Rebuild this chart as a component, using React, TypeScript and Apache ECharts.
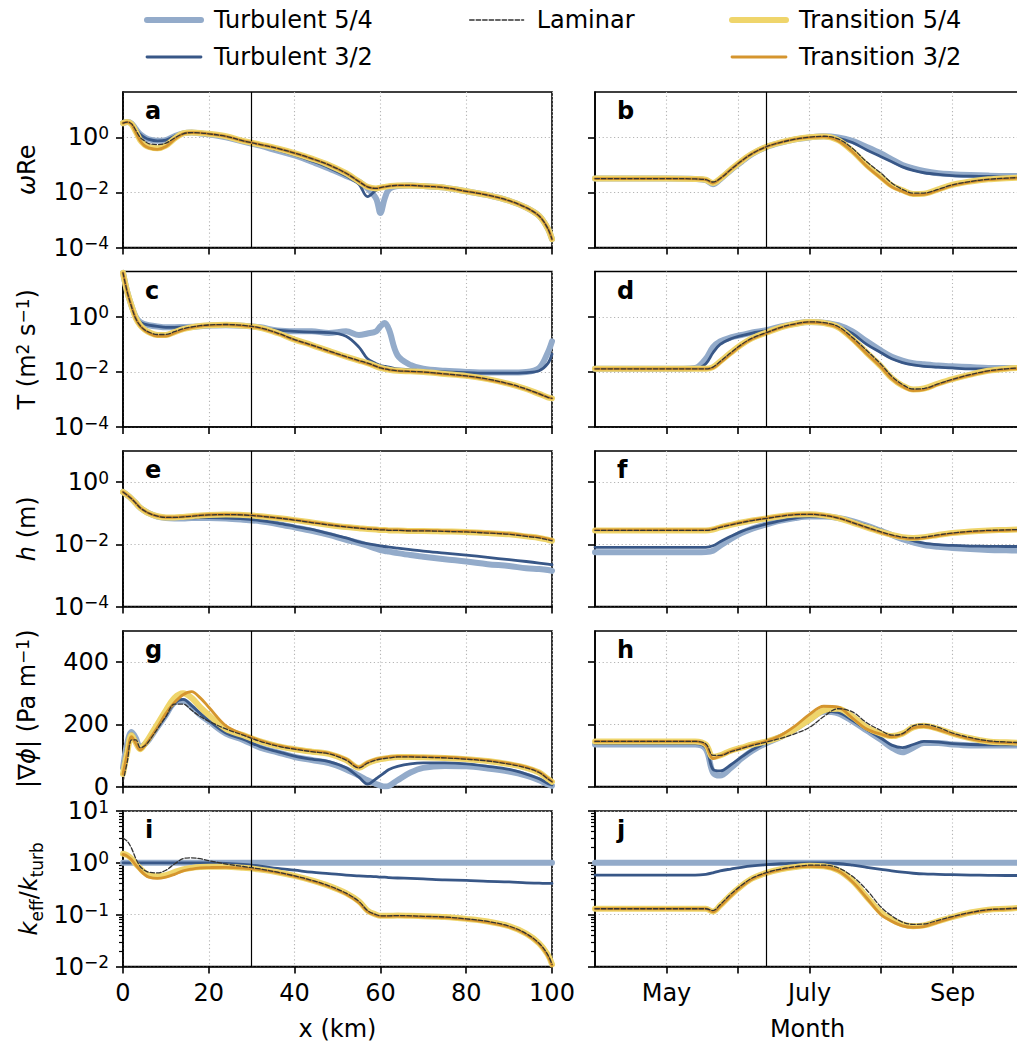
import React, { useEffect, useRef } from "react";
import * as echarts from "echarts";

// ---------- x positions ----------
const xKm = [0, 1, 2, 3, 4, 5, 6, 8, 10, 12, 14, 16, 18, 20, 24, 28, 32, 36, 40, 44, 48, 52, 55, 57, 59, 60, 61, 62, 64, 67, 70, 75, 80, 85, 90, 94, 97, 99, 100];
const xMonth = [4.0, 4.5, 5.0, 5.4, 5.55, 5.65, 5.75, 5.9, 6.05, 6.2, 6.4, 6.6, 6.8, 7.0, 7.2, 7.4, 7.6, 7.8, 8.0, 8.15, 8.3, 8.45, 8.6, 8.8, 9.0, 9.25, 9.5, 9.75, 9.95];

// ---------- panel a : omega Re (km) ----------
const aTurb54 = [3.3, 3.6, 3.2, 2.0, 1.3, 1.0, 0.85, 0.75, 0.8, 1.1, 1.4, 1.5, 1.4, 1.3, 1.0, 0.7, 0.5, 0.33, 0.22, 0.13, 0.075, 0.04, 0.025, 0.014, 0.006, 0.0018, 0.006, 0.013, 0.017, 0.018, 0.017, 0.015, 0.011, 0.008, 0.005, 0.0028, 0.0014, 0.0005, 0.0002];
const aTurb32 = [3.3, 3.6, 3.2, 2.0, 1.3, 1.0, 0.85, 0.75, 0.8, 1.1, 1.4, 1.5, 1.4, 1.3, 1.0, 0.72, 0.52, 0.35, 0.23, 0.14, 0.08, 0.04, 0.02, 0.007, 0.012, 0.014, 0.015, 0.016, 0.017, 0.018, 0.017, 0.015, 0.011, 0.008, 0.005, 0.0028, 0.0014, 0.0005, 0.0002];
const aLam = [3.3, 3.6, 3.1, 1.8, 1.0, 0.75, 0.6, 0.55, 0.62, 0.95, 1.35, 1.5, 1.45, 1.35, 1.1, 0.75, 0.55, 0.4, 0.27, 0.17, 0.1, 0.05, 0.025, 0.016, 0.014, 0.015, 0.016, 0.017, 0.018, 0.018, 0.017, 0.015, 0.011, 0.008, 0.005, 0.0028, 0.0014, 0.0005, 0.0002];
const aTran54 = [3.3, 3.6, 3.0, 1.6, 0.8, 0.55, 0.45, 0.4, 0.5, 0.9, 1.4, 1.5, 1.45, 1.35, 1.1, 0.75, 0.55, 0.4, 0.27, 0.17, 0.1, 0.05, 0.025, 0.016, 0.014, 0.015, 0.016, 0.017, 0.018, 0.018, 0.017, 0.015, 0.011, 0.008, 0.005, 0.0028, 0.0014, 0.0005, 0.0002];
const aTran32 = [3.3, 3.6, 3.0, 1.5, 0.75, 0.5, 0.42, 0.37, 0.47, 0.85, 1.35, 1.5, 1.45, 1.35, 1.1, 0.75, 0.55, 0.4, 0.27, 0.17, 0.1, 0.05, 0.025, 0.016, 0.014, 0.015, 0.016, 0.017, 0.018, 0.018, 0.017, 0.015, 0.011, 0.008, 0.005, 0.0028, 0.0014, 0.0005, 0.0002];

// ---------- panel b : omega Re (month) ----------
const bTurb54 = [0.032, 0.032, 0.032, 0.031, 0.028, 0.02, 0.03, 0.065, 0.13, 0.25, 0.45, 0.65, 0.85, 1.0, 1.1, 1.0, 0.75, 0.45, 0.26, 0.16, 0.1, 0.075, 0.06, 0.05, 0.046, 0.043, 0.041, 0.04, 0.04];
const bTurb32 = [0.032, 0.032, 0.032, 0.031, 0.028, 0.021, 0.03, 0.065, 0.13, 0.25, 0.45, 0.65, 0.85, 1.0, 1.08, 0.95, 0.65, 0.35, 0.2, 0.13, 0.085, 0.063, 0.052, 0.045, 0.041, 0.039, 0.038, 0.037, 0.037];
const bLam = [0.032, 0.032, 0.032, 0.031, 0.029, 0.024, 0.032, 0.068, 0.14, 0.26, 0.46, 0.66, 0.86, 1.02, 1.1, 0.88, 0.4, 0.13, 0.05, 0.022, 0.013, 0.0095, 0.0095, 0.013, 0.019, 0.025, 0.03, 0.033, 0.035];
const bTran54 = [0.032, 0.032, 0.032, 0.031, 0.029, 0.022, 0.032, 0.068, 0.14, 0.26, 0.46, 0.66, 0.86, 1.02, 1.08, 0.8, 0.32, 0.1, 0.037, 0.018, 0.012, 0.0088, 0.009, 0.013, 0.019, 0.025, 0.03, 0.033, 0.035];
const bTran32 = [0.032, 0.032, 0.032, 0.031, 0.029, 0.022, 0.032, 0.068, 0.14, 0.26, 0.46, 0.66, 0.86, 1.0, 1.05, 0.76, 0.3, 0.09, 0.033, 0.016, 0.011, 0.0082, 0.0085, 0.012, 0.018, 0.024, 0.029, 0.032, 0.034];

// ---------- panel c : T (km) ----------
const cTurb54 = [40, 8, 2.5, 1.0, 0.65, 0.55, 0.5, 0.45, 0.42, 0.42, 0.43, 0.44, 0.46, 0.48, 0.5, 0.48, 0.42, 0.32, 0.3, 0.3, 0.26, 0.3, 0.22, 0.25, 0.3, 0.45, 0.6, 0.35, 0.04, 0.018, 0.013, 0.011, 0.01, 0.0095, 0.0095, 0.01, 0.014, 0.05, 0.13];
const cTurb32 = [40, 8, 2.5, 1.0, 0.65, 0.55, 0.5, 0.45, 0.42, 0.42, 0.43, 0.44, 0.46, 0.48, 0.5, 0.47, 0.4, 0.33, 0.3, 0.28, 0.27, 0.2, 0.08, 0.03, 0.02, 0.017, 0.016, 0.015, 0.013, 0.012, 0.011, 0.01, 0.0095, 0.009, 0.009, 0.0095, 0.011, 0.02, 0.045];
const cLam = [40, 8, 2.3, 0.85, 0.48, 0.34, 0.28, 0.23, 0.23, 0.29, 0.37, 0.43, 0.48, 0.51, 0.53, 0.49, 0.4, 0.26, 0.15, 0.095, 0.058, 0.036, 0.026, 0.021, 0.016, 0.014, 0.013, 0.012, 0.011, 0.0105, 0.01, 0.0085, 0.0072, 0.0055, 0.0037, 0.0024, 0.0016, 0.0012, 0.0011];
const cTran54 = [40, 8, 2.5, 0.9, 0.5, 0.35, 0.28, 0.22, 0.22, 0.28, 0.36, 0.42, 0.47, 0.5, 0.52, 0.48, 0.4, 0.26, 0.15, 0.095, 0.058, 0.036, 0.026, 0.021, 0.016, 0.014, 0.013, 0.012, 0.011, 0.0105, 0.01, 0.0085, 0.0072, 0.0055, 0.0037, 0.0024, 0.0016, 0.0012, 0.0011];
const cTran32 = [40, 8, 2.4, 0.85, 0.47, 0.33, 0.26, 0.2, 0.2, 0.26, 0.34, 0.41, 0.46, 0.49, 0.51, 0.47, 0.39, 0.25, 0.145, 0.092, 0.056, 0.035, 0.025, 0.02, 0.016, 0.014, 0.013, 0.012, 0.011, 0.0103, 0.0098, 0.0083, 0.007, 0.0053, 0.0036, 0.0023, 0.0016, 0.0012, 0.0011];

// ---------- panel d : T (month) ----------
const dTurb54 = [0.013, 0.013, 0.013, 0.014, 0.03, 0.08, 0.13, 0.18, 0.22, 0.27, 0.33, 0.45, 0.57, 0.65, 0.62, 0.5, 0.3, 0.13, 0.06, 0.036, 0.026, 0.021, 0.019, 0.017, 0.016, 0.015, 0.014, 0.014, 0.014];
const dTurb32 = [0.013, 0.013, 0.013, 0.013, 0.02, 0.05, 0.1, 0.16, 0.21, 0.26, 0.32, 0.44, 0.56, 0.64, 0.6, 0.46, 0.25, 0.1, 0.05, 0.03, 0.022, 0.018, 0.016, 0.015, 0.014, 0.013, 0.013, 0.013, 0.013];
const dLam = [0.013, 0.013, 0.013, 0.013, 0.013, 0.015, 0.024, 0.05, 0.1, 0.17, 0.27, 0.42, 0.56, 0.66, 0.62, 0.45, 0.18, 0.06, 0.019, 0.007, 0.0035, 0.0024, 0.0025, 0.0037, 0.0054, 0.008, 0.011, 0.013, 0.014];
const dTran54 = [0.013, 0.013, 0.013, 0.013, 0.013, 0.015, 0.024, 0.05, 0.1, 0.17, 0.27, 0.42, 0.55, 0.65, 0.6, 0.42, 0.16, 0.05, 0.016, 0.006, 0.0032, 0.0023, 0.0025, 0.0038, 0.0055, 0.008, 0.011, 0.013, 0.014];
const dTran32 = [0.013, 0.013, 0.013, 0.013, 0.013, 0.014, 0.022, 0.046, 0.095, 0.16, 0.26, 0.41, 0.54, 0.64, 0.58, 0.4, 0.15, 0.046, 0.015, 0.0057, 0.003, 0.0021, 0.0023, 0.0035, 0.0052, 0.0076, 0.0105, 0.0125, 0.0135];

// ---------- panel e : h (km) ----------
const eTurb54 = [0.48, 0.38, 0.29, 0.21, 0.15, 0.12, 0.1, 0.078, 0.07, 0.068, 0.068, 0.07, 0.07, 0.07, 0.068, 0.062, 0.055, 0.045, 0.035, 0.027, 0.02, 0.014, 0.011, 0.009, 0.0072, 0.0065, 0.0061, 0.0058, 0.0052, 0.0045, 0.004, 0.0033, 0.0028, 0.0023, 0.002, 0.0017, 0.0016, 0.0015, 0.0014];
const eTurb32 = [0.48, 0.38, 0.29, 0.21, 0.15, 0.12, 0.1, 0.078, 0.071, 0.07, 0.07, 0.071, 0.072, 0.072, 0.07, 0.066, 0.058, 0.048, 0.038, 0.03, 0.022, 0.016, 0.012, 0.0105, 0.0094, 0.0089, 0.0085, 0.0081, 0.0075, 0.0067, 0.006, 0.0052, 0.0045, 0.0038, 0.0032, 0.0028, 0.0025, 0.0023, 0.0022];
const eLam = [0.48, 0.38, 0.29, 0.21, 0.15, 0.12, 0.1, 0.08, 0.073, 0.073, 0.076, 0.08, 0.085, 0.088, 0.09, 0.088, 0.08, 0.07, 0.06, 0.05, 0.042, 0.036, 0.033, 0.031, 0.03, 0.029, 0.029, 0.028, 0.028, 0.027, 0.027, 0.026, 0.025, 0.023, 0.021, 0.018, 0.016, 0.014, 0.013];
const eTran54 = [0.48, 0.38, 0.29, 0.21, 0.15, 0.12, 0.1, 0.08, 0.073, 0.073, 0.076, 0.08, 0.085, 0.088, 0.09, 0.088, 0.08, 0.07, 0.06, 0.05, 0.042, 0.036, 0.033, 0.031, 0.03, 0.029, 0.029, 0.028, 0.028, 0.027, 0.027, 0.026, 0.025, 0.023, 0.021, 0.018, 0.016, 0.014, 0.013];
const eTran32 = [0.48, 0.38, 0.29, 0.21, 0.15, 0.12, 0.1, 0.08, 0.074, 0.074, 0.077, 0.081, 0.086, 0.089, 0.091, 0.089, 0.081, 0.071, 0.061, 0.051, 0.043, 0.037, 0.034, 0.032, 0.031, 0.03, 0.03, 0.029, 0.029, 0.028, 0.028, 0.027, 0.026, 0.024, 0.022, 0.019, 0.017, 0.015, 0.014];

// ---------- panel f : h (month) ----------
const fTurb54 = [0.0055, 0.0055, 0.0055, 0.0055, 0.0056, 0.0062, 0.009, 0.015, 0.023, 0.032, 0.044, 0.058, 0.07, 0.078, 0.078, 0.07, 0.056, 0.04, 0.027, 0.02, 0.0145, 0.0115, 0.0095, 0.0083, 0.0076, 0.007, 0.0066, 0.0064, 0.0063];
const fTurb32 = [0.008, 0.008, 0.008, 0.008, 0.008, 0.009, 0.012, 0.018, 0.026, 0.034, 0.045, 0.058, 0.07, 0.078, 0.076, 0.068, 0.055, 0.04, 0.028, 0.021, 0.016, 0.013, 0.011, 0.0098, 0.0092, 0.0088, 0.0086, 0.0085, 0.0085];
const fLam = [0.028, 0.028, 0.028, 0.028, 0.028, 0.03, 0.035, 0.042, 0.05, 0.058, 0.068, 0.08, 0.09, 0.092, 0.085, 0.07, 0.05, 0.035, 0.025, 0.02, 0.017, 0.016, 0.017, 0.02, 0.023, 0.026, 0.028, 0.029, 0.03];
const fTran54 = [0.028, 0.028, 0.028, 0.028, 0.028, 0.03, 0.035, 0.042, 0.05, 0.058, 0.068, 0.08, 0.09, 0.092, 0.085, 0.07, 0.05, 0.035, 0.025, 0.02, 0.017, 0.016, 0.017, 0.02, 0.023, 0.026, 0.028, 0.029, 0.03];
const fTran32 = [0.029, 0.029, 0.029, 0.029, 0.029, 0.031, 0.036, 0.043, 0.051, 0.06, 0.07, 0.082, 0.092, 0.094, 0.087, 0.071, 0.05, 0.034, 0.024, 0.019, 0.016, 0.015, 0.016, 0.019, 0.022, 0.025, 0.027, 0.028, 0.029];

// ---------- panel g : |grad phi| (km) ----------
const gTurb54 = [60, 140, 175, 155, 125, 135, 150, 190, 230, 270, 275, 255, 230, 210, 170, 150, 125, 110, 95, 85, 75, 55, 35, 20, 8, 3, 0, 2, 20, 45, 60, 66, 65, 58, 48, 35, 20, 7, 2];
const gTurb32 = [55, 135, 170, 150, 122, 132, 148, 188, 228, 268, 280, 260, 235, 212, 172, 152, 128, 112, 98, 88, 80, 60, 30, 8, 25, 35, 45, 55, 65, 73, 76, 76, 73, 65, 55, 40, 25, 10, 5];
const gLam = [15, 80, 150, 150, 125, 130, 145, 185, 225, 265, 265, 245, 225, 210, 185, 165, 145, 130, 120, 112, 105, 85, 60, 75, 85, 88, 90, 92, 95, 95, 94, 92, 88, 82, 72, 60, 45, 25, 15];
const gTran54 = [40, 110, 165, 140, 120, 135, 155, 200, 245, 285, 300, 285, 255, 230, 185, 165, 145, 130, 120, 112, 105, 85, 60, 75, 85, 88, 90, 92, 95, 95, 94, 92, 88, 82, 72, 60, 45, 25, 15];
const gTran32 = [40, 105, 160, 138, 118, 130, 148, 190, 235, 270, 295, 305, 285, 255, 195, 168, 148, 132, 122, 114, 107, 88, 62, 78, 88, 91, 93, 95, 97, 97, 96, 94, 90, 84, 74, 62, 47, 27, 16];

// ---------- panel h : |grad phi| (month) ----------
const hTurb54 = [135, 135, 135, 135, 120, 45, 35, 60, 90, 115, 140, 160, 185, 215, 240, 235, 210, 180, 150, 125, 110, 125, 140, 140, 135, 132, 132, 132, 132];
const hTurb32 = [138, 138, 138, 138, 125, 55, 50, 70, 95, 118, 142, 162, 187, 217, 242, 238, 213, 183, 155, 133, 125, 135, 145, 143, 138, 135, 134, 134, 134];
const hLam = [145, 145, 145, 145, 137, 100, 100, 112, 122, 132, 143, 155, 170, 190, 225, 250, 240, 205, 180, 165, 170, 195, 200, 190, 172, 157, 147, 143, 141];
const hTran54 = [145, 145, 145, 145, 135, 95, 100, 115, 125, 135, 145, 160, 185, 215, 245, 250, 225, 190, 170, 162, 170, 190, 195, 185, 170, 155, 145, 142, 140];
const hTran32 = [145, 145, 145, 145, 133, 90, 98, 113, 124, 134, 146, 165, 195, 232, 258, 255, 220, 185, 168, 160, 168, 188, 193, 183, 168, 153, 144, 141, 139];

// ---------- panel i : k_eff/k_turb (km) ----------
const iTurb54 = [1, 1, 1, 1, 1, 1, 1, 1, 1, 1, 1, 1, 1, 1, 1, 1, 1, 1, 1, 1, 1, 1, 1, 1, 1, 1, 1, 1, 1, 1, 1, 1, 1, 1, 1, 1, 1, 1, 1];
const iTurb32 = [1, 1, 1, 1, 1, 1, 1, 1, 1, 1, 1, 1, 1, 1, 0.98, 0.93, 0.86, 0.78, 0.72, 0.66, 0.62, 0.58, 0.56, 0.55, 0.54, 0.53, 0.53, 0.52, 0.51, 0.5, 0.49, 0.47, 0.46, 0.44, 0.43, 0.41, 0.405, 0.4, 0.4];
const iLam = [3.0, 2.6, 1.9, 1.2, 0.85, 0.72, 0.66, 0.64, 0.72, 0.95, 1.2, 1.25, 1.2, 1.1, 0.95, 0.85, 0.76, 0.66, 0.56, 0.46, 0.36, 0.26, 0.18, 0.12, 0.1, 0.095, 0.095, 0.095, 0.096, 0.095, 0.093, 0.09, 0.083, 0.074, 0.06, 0.043, 0.028, 0.017, 0.011];
const iTran54 = [1.5, 1.4, 1.2, 0.95, 0.78, 0.65, 0.58, 0.55, 0.58, 0.66, 0.75, 0.8, 0.83, 0.84, 0.84, 0.8, 0.74, 0.66, 0.56, 0.46, 0.36, 0.26, 0.18, 0.12, 0.1, 0.095, 0.095, 0.095, 0.096, 0.095, 0.093, 0.09, 0.083, 0.074, 0.06, 0.043, 0.028, 0.017, 0.011];
const iTran32 = [1.45, 1.35, 1.15, 0.9, 0.72, 0.6, 0.53, 0.5, 0.53, 0.6, 0.7, 0.76, 0.8, 0.81, 0.82, 0.79, 0.73, 0.65, 0.55, 0.45, 0.35, 0.25, 0.17, 0.115, 0.097, 0.093, 0.093, 0.093, 0.094, 0.093, 0.091, 0.088, 0.081, 0.072, 0.058, 0.042, 0.027, 0.016, 0.0105];

// ---------- panel j : k_eff/k_turb (month) ----------
const jTurb54 = [1, 1, 1, 1, 1, 1, 1, 1, 1, 1, 1, 1, 1, 1, 1, 1, 1, 1, 1, 1, 1, 1, 1, 1, 1, 1, 1, 1, 1];
const jTurb32 = [0.58, 0.58, 0.58, 0.58, 0.6, 0.64, 0.7, 0.76, 0.82, 0.87, 0.92, 0.96, 0.99, 1.0, 1.0, 0.97, 0.9, 0.82, 0.75, 0.7, 0.66, 0.63, 0.61, 0.6, 0.59, 0.58, 0.575, 0.57, 0.57];
const jLam = [0.13, 0.13, 0.13, 0.13, 0.13, 0.12, 0.155, 0.25, 0.37, 0.51, 0.65, 0.76, 0.84, 0.9, 0.9, 0.8, 0.55, 0.3, 0.14, 0.095, 0.072, 0.065, 0.066, 0.078, 0.092, 0.11, 0.125, 0.13, 0.135];
const jTran54 = [0.13, 0.13, 0.13, 0.13, 0.13, 0.115, 0.15, 0.24, 0.36, 0.5, 0.64, 0.75, 0.83, 0.88, 0.86, 0.72, 0.45, 0.22, 0.11, 0.08, 0.065, 0.06, 0.062, 0.075, 0.09, 0.11, 0.125, 0.13, 0.135];
const jTran32 = [0.13, 0.13, 0.13, 0.13, 0.13, 0.113, 0.145, 0.23, 0.35, 0.49, 0.63, 0.74, 0.82, 0.86, 0.84, 0.7, 0.43, 0.21, 0.1, 0.075, 0.061, 0.057, 0.059, 0.072, 0.088, 0.108, 0.123, 0.128, 0.133];

// ---------- ticks / labels ----------
const kmTickStep = 20;
const monthTickValues = [5, 6, 7, 8, 9];
const monthLabelValues = [5, 7, 9];
const monthNames: Record<number, string> = { 5: "May", 7: "July", 9: "Sep" };
const markerKm = 30;
const markerMonth = 6.4;
const minorTickValues = [0.02, 0.03, 0.04, 0.05, 0.06, 0.07, 0.08, 0.09, 0.2, 0.3, 0.4, 0.5, 0.6, 0.7, 0.8, 0.9, 2, 3, 4, 5, 6, 7, 8, 9];
const panelLetters = ["a", "b", "c", "d", "e", "f", "g", "h", "i", "j"];

// ---------- layout ----------
const FONT = "DejaVu Sans";
const GRID_TOPS = [92, 271.5, 451, 631, 811];
const GRID_H = 155.5;
const LEFT_L = 123;
const LEFT_W = 429;
const RIGHT_L = 595;
const RIGHT_W = 425;
const MONTH_MIN = 4;
const MONTH_MAX = 4 + 425 / 71.5;

const COL = {
  t54: "#93abca",
  t32: "#385787",
  lam: "#333333",
  r54: "#efd56b",
  r32: "#d5952e",
};

const KINDS = [
  { key: "t54", name: "Turbulent 5/4", color: COL.t54, width: 6, type: "solid" as any },
  { key: "t32", name: "Turbulent 3/2", color: COL.t32, width: 2.8, type: "solid" as any },
  { key: "r54", name: "Transition 5/4", color: COL.r54, width: 6, type: "solid" as any },
  { key: "r32", name: "Transition 3/2", color: COL.r32, width: 2.8, type: "solid" as any },
  { key: "lam", name: "Laminar", color: COL.lam, width: 1.3, type: [4.5, 2] as any },
];

const supRich = {
  n: { fontSize: 24, fontFamily: FONT, color: "#000", lineHeight: 26, verticalAlign: "middle" },
  i: { fontSize: 24, fontFamily: FONT, color: "#000", lineHeight: 26, verticalAlign: "middle", fontStyle: "italic" },
  s: { fontSize: 17, fontFamily: FONT, color: "#000", verticalAlign: "top" },
};
const subRich = {
  n: { fontSize: 24, fontFamily: FONT, color: "#000", lineHeight: 32, verticalAlign: "middle" },
  i: { fontSize: 24, fontFamily: FONT, color: "#000", lineHeight: 32, verticalAlign: "middle", fontStyle: "italic" },
  b: { fontSize: 17, fontFamily: FONT, color: "#000", verticalAlign: "bottom" },
};
const tickRich = {
  b: { fontSize: 24, fontFamily: FONT, color: "#000", lineHeight: 26, verticalAlign: "middle" },
  s: { fontSize: 17, fontFamily: FONT, color: "#000", verticalAlign: "top" },
};

type PanelData = { t54: number[]; t32: number[]; lam: number[]; r54: number[]; r32: number[] };

const ROWS: {
  log: boolean; min: number; max: number; interval: number; ticks: number[] | null;
  name: string; rich: any; gap: number; L: PanelData; R: PanelData;
}[] = [
  { log: true, min: -4, max: 1.65, interval: 2, ticks: [-4, -2, 0], name: "{i|ω}{n|Re}", rich: supRich, gap: 83,
    L: { t54: aTurb54, t32: aTurb32, lam: aLam, r54: aTran54, r32: aTran32 },
    R: { t54: bTurb54, t32: bTurb32, lam: bLam, r54: bTran54, r32: bTran32 } },
  { log: true, min: -4, max: 1.65, interval: 2, ticks: [-4, -2, 0], name: "{n|T (m}{s|2}{n| s}{s|−1}{n|)}", rich: supRich, gap: 83,
    L: { t54: cTurb54, t32: cTurb32, lam: cLam, r54: cTran54, r32: cTran32 },
    R: { t54: dTurb54, t32: dTurb32, lam: dLam, r54: dTran54, r32: dTran32 } },
  { log: true, min: -4, max: 1, interval: 2, ticks: [-4, -2, 0], name: "{i|h}{n| (m)}", rich: supRich, gap: 83,
    L: { t54: eTurb54, t32: eTurb32, lam: eLam, r54: eTran54, r32: eTran32 },
    R: { t54: fTurb54, t32: fTurb32, lam: fLam, r54: fTran54, r32: fTran32 } },
  { log: false, min: 0, max: 500, interval: 200, ticks: [0, 200, 400], name: "{n||∇}{i|ϕ}{n|| (Pa m}{s|−1}{n|)}", rich: supRich, gap: 83,
    L: { t54: gTurb54, t32: gTurb32, lam: gLam, r54: gTran54, r32: gTran32 },
    R: { t54: hTurb54, t32: hTurb32, lam: hLam, r54: hTran54, r32: hTran32 } },
  { log: true, min: -2, max: 1, interval: 1, ticks: null, name: "{i|k}{b|eff}{n|/}{i|k}{b|turb}", rich: subRich, gap: 78,
    L: { t54: iTurb54, t32: iTurb32, lam: iLam, r54: iTran54, r32: iTran32 },
    R: { t54: jTurb54, t32: jTurb32, lam: jLam, r54: jTran54, r32: jTran32 } },
];

function expLabel(v: number) {
  const e = Math.round(v);
  const s = e < 0 ? "−" + String(-e) : String(e);
  return "{b|10}{s|" + s + "}";
}

function buildOption() {
  const grids: any[] = [];
  const xAxes: any[] = [];
  const yAxes: any[] = [];
  const series: any[] = [];
  const graphics: any[] = [];
  const extraY: any[] = [];

  const splitLine = { show: true, lineStyle: { color: "#b5b5b5", width: 1.1, type: [1.2, 2.6] } };
  const axisLine = { show: true, onZero: false, lineStyle: { color: "#000", width: 1.6 } };
  const tick = { show: true, inside: false, length: 7, lineStyle: { color: "#000", width: 1.6 } };
  const labelBase = { fontSize: 24, fontFamily: FONT, color: "#000" };

  ROWS.forEach((row, r) => {
    [0, 1].forEach((c) => {
      const g = r * 2 + c;
      const isBottom = r === ROWS.length - 1;
      const left = c === 0 ? LEFT_L : RIGHT_L;
      const width = c === 0 ? LEFT_W : RIGHT_W;
      grids.push({
        left, top: GRID_TOPS[r], width, height: GRID_H,
        show: true, borderColor: "#000", borderWidth: 1.6, backgroundColor: "transparent",
        containLabel: false, outerBoundsMode: "none",
      });

      if (c === 0) {
        xAxes.push({
          type: "value", gridIndex: g, min: 0, max: 100, interval: kmTickStep,
          axisLine, axisTick: tick, splitLine,
          axisLabel: { ...labelBase, show: isBottom, margin: 14 },
          name: isBottom ? "x (km)" : "", nameLocation: "middle", nameGap: 49, nameMoveOverlap: false,
          nameTextStyle: { ...labelBase, lineHeight: 26 },
        });
      } else {
        xAxes.push({
          type: "value", gridIndex: g, min: MONTH_MIN, max: MONTH_MAX, interval: 1,
          axisLine, axisTick: { ...tick, customValues: monthTickValues }, splitLine,
          axisLabel: {
            ...labelBase, show: isBottom, margin: 14, customValues: monthLabelValues,
            formatter: (v: number) => monthNames[Math.round(v)] || "",
          },
          name: isBottom ? "Month" : "", nameLocation: "middle", nameGap: 49, nameMoveOverlap: false,
          nameTextStyle: { ...labelBase, lineHeight: 26 },
        });
      }

      const yAx: any = {
        type: "value", gridIndex: g, min: row.min, max: row.max, interval: row.interval,
        axisLine, splitLine,
        axisTick: row.ticks ? { ...tick, customValues: row.ticks } : tick,
        axisLabel: row.log
          ? { show: c === 0, margin: 14, formatter: expLabel, rich: tickRich, ...(row.ticks ? { customValues: row.ticks } : {}) }
          : { ...labelBase, lineHeight: 20, show: c === 0, margin: 14, ...(row.ticks ? { customValues: row.ticks } : {}) },
        nameMoveOverlap: false,
      };
      if (c === 0) {
        yAx.name = row.name;
        yAx.nameLocation = "middle";
        yAx.nameRotate = 90;
        yAx.nameGap = row.gap;
        yAx.nameTextStyle = { fontSize: 24, fontFamily: FONT, color: "#000", rich: row.rich };
      }
      yAxes.push(yAx);

      if (r === ROWS.length - 1) {
        extraY.push({
          type: "value", gridIndex: g, min: row.min, max: row.max, position: "left",
          axisLine: { show: false },
          axisTick: { show: true, inside: false, length: 4, customValues: minorTickValues.map((v) => Math.log10(v)), lineStyle: { color: "#000", width: 1.2 } },
          axisLabel: { show: false }, splitLine: { show: false },
        });
      }

      const xs = c === 0 ? xKm : xMonth;
      const pd = c === 0 ? row.L : row.R;
      KINDS.forEach((k, ki) => {
        const vals: number[] = (pd as any)[k.key];
        const s: any = {
          type: "line", name: k.name, xAxisIndex: g, yAxisIndex: g,
          data: xs.map((x, i) => [x, row.log ? Math.log10(vals[i]) : vals[i]]),
          symbol: "none", showSymbol: false, smooth: 0.35, silent: true,
          lineStyle: { color: k.color, width: k.width, type: k.type, cap: "round", join: "round" },
          itemStyle: { color: k.color },
          emphasis: { disabled: true },
          z: 2 + ki,
        };
        if (ki === 0) {
          s.markLine = {
            silent: true, symbol: ["none", "none"], label: { show: false },
            lineStyle: { color: "#000", width: 1.2, type: "solid" },
            emphasis: { disabled: true },
            data: [{ xAxis: c === 0 ? markerKm : markerMonth }],
          };
        }
        series.push(s);
      });

      graphics.push({
        type: "text", x: left + 22, y: GRID_TOPS[r] + 19, z: 100,
        style: { text: panelLetters[g], font: "bold 24px DejaVu Sans", fill: "#000", textVerticalAlign: "middle", verticalAlign: "middle" },
      });
    });
  });

  const legendCommon = {
    orient: "vertical", itemWidth: 54, itemHeight: 14, itemGap: 9, selectedMode: false,
    padding: 0,
    lineStyle: { width: "inherit" },
    itemStyle: { opacity: 0, borderWidth: 0 },
    textStyle: { fontSize: 24, fontFamily: FONT, color: "#000", lineHeight: 28, padding: [0, 0, 0, 8] },
  };

  return {
    animation: false,
    backgroundColor: "#fff",
    textStyle: { fontFamily: FONT },
    grid: grids,
    xAxis: xAxes,
    yAxis: [...yAxes, ...extraY],
    series,
    graphic: graphics,
    legend: [
      { ...legendCommon, left: 144, top: 6, data: ["Turbulent 5/4", "Turbulent 3/2"] },
      { ...legendCommon, left: 469, top: 6, data: ["Laminar"] },
      { ...legendCommon, left: 729, top: 6, data: ["Transition 5/4", "Transition 3/2"] },
    ],
  };
}

export default function App() {
  const ref = useRef<HTMLDivElement>(null);
  useEffect(() => {
    document.body.style.margin = "0";
    const chart = echarts.init(ref.current!, undefined, { renderer: "svg" });
    chart.setOption(buildOption() as any);
    return () => chart.dispose();
  }, []);
  return <div ref={ref} style={{ width: 1017, height: 1041 }} />;
}
